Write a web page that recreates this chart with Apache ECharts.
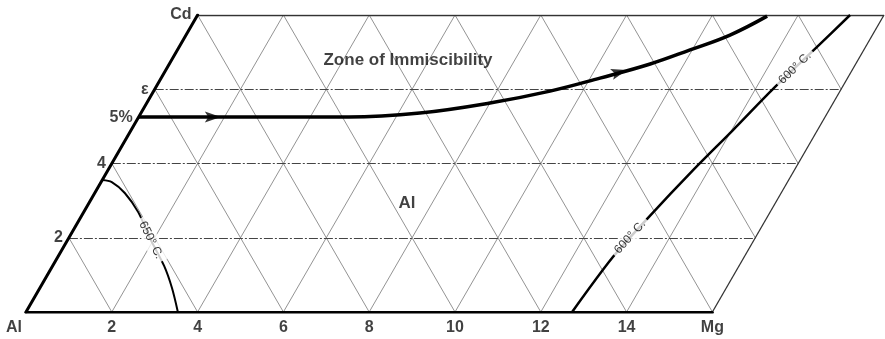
<!DOCTYPE html>
<html><head><meta charset="utf-8">
<script src="https://cdn.jsdelivr.net/npm/echarts@6/dist/echarts.min.js"></script>
<style>html,body{margin:0;padding:0;background:#fff}#c{width:885px;height:339px}</style>
</head><body><div id="c"></div>
<script>
// ---- Data (u = Mg %, bottom scale; v = Cd %, left scale) ----
const U_MAX = 16, V_MAX = 8, STEP = 2;
const bottomTicks = [2, 4, 6, 8, 10, 12, 14];
const leftLabels = ['Cd', 'ε', '5%', '4', '2'];
const leftLabelV = [8, 6, 5.25, 4, 2];

// Boundary of zone of immiscibility (with arrows)
const immiscU = [0, 4.9, 6.5, 8.0, 9.24, 10.23, 11.21, 11.95, 12.68, 13.29];
const immiscV = [5.25, 5.25, 5.36, 5.63, 5.95, 6.30, 6.68, 7.06, 7.46, 7.97];
const arrowU = [1.73, 10.6];
const arrowV = [5.25, 6.46];
const arrowAngle = [0, 16];

// 600 °C isotherm
const iso600U = [12.73, 12.94, 13.23, 13.64, 14.03, 14.41, 14.87, 15.21];
const iso600V = [0, 1.48, 2.53, 3.82, 4.90, 6.01, 7.14, 8.0];
// 650 °C isotherm
const iso650U = [0, 0.25, 0.70, 1.27, 1.94, 2.60, 3.08, 3.54];
const iso650V = [3.556, 3.50, 3.205, 2.69, 1.94, 1.24, 0.646, 0];

// Isotherm labels
const isoLabelText = ['600° C.', '600° C.', '650° C.'];
const isoLabelU = [13.07, 14.64, 1.94];
const isoLabelV = [2.02, 6.57, 1.94];
const isoLabelRot = [48, 44, -64];

// Field labels
const fieldText = ['Zone of Immiscibility', 'Al'];
const fieldU = [5.51, 7.41];
const fieldV = [6.79, 2.94];

// ---- skew transform (triangular grid -> cartesian) ----
const P = (u, v) => [u + v / 2, v];
const seg = (a, b) => ({ coords: [P(a[0], a[1]), P(b[0], b[1])] });

const hLines = [], slashLines = [], backLines = [];
for (let v = STEP; v < V_MAX; v += STEP) hLines.push(seg([0, v], [U_MAX, v]));
for (let u = STEP; u < U_MAX; u += STEP) slashLines.push(seg([u, 0], [u, V_MAX]));
for (let c = STEP; c < U_MAX + V_MAX; c += STEP) {
  const v0 = Math.max(0, c - U_MAX), v1 = Math.min(V_MAX, c);
  backLines.push(seg([c - v0, v0], [c - v1, v1]));
}

const FONT = '"Liberation Sans", Arial, sans-serif';
const zip = (U, V) => U.map((u, i) => P(u, V[i]));

const chart = echarts.init(document.getElementById('c'), null, { renderer: 'canvas' });
chart.setOption({
  animation: false,
  backgroundColor: '#fff',
  grid: { left: 26, right: 1, top: 15, bottom: 27 },
  xAxis: { type: 'value', min: 0, max: U_MAX + V_MAX / 2, show: false },
  yAxis: { type: 'value', min: 0, max: V_MAX, show: false },
  series: [
    { type: 'lines', coordinateSystem: 'cartesian2d', silent: true,
      lineStyle: { color: '#777', width: 0.8, opacity: 1 }, data: slashLines.concat(backLines) },
    { type: 'lines', coordinateSystem: 'cartesian2d', silent: true,
      lineStyle: { color: '#444', width: 1, type: [9, 2, 2, 2], opacity: 1 }, data: hLines },
    // borders
    { type: 'lines', coordinateSystem: 'cartesian2d', silent: true,
      lineStyle: { color: '#333', width: 1.3, opacity: 1 },
      data: [seg([0, V_MAX], [U_MAX, V_MAX]), seg([U_MAX, 0], [U_MAX, V_MAX])] },
    { type: 'lines', coordinateSystem: 'cartesian2d', silent: true,
      lineStyle: { color: '#000', width: 3, opacity: 1, cap: 'round' },
      data: [seg([0, 0], [0, V_MAX]), seg([0, 0], [U_MAX, 0])] },
    // curves
    { type: 'line', data: zip(immiscU, immiscV), smooth: 0.4, showSymbol: false,
      lineStyle: { color: '#000', width: 3.5 } },
    { type: 'line', data: zip(iso600U, iso600V), smooth: 0.3, showSymbol: false,
      lineStyle: { color: '#000', width: 2.5 } },
    { type: 'line', data: zip(iso650U, iso650V), smooth: 0.3, showSymbol: false,
      lineStyle: { color: '#000', width: 2 } },
    // arrows
    { type: 'scatter', symbol: 'path://M0,0L14,5L0,10L3,5Z', symbolSize: [16, 11],
      itemStyle: { color: '#000' },
      data: arrowU.map((u, i) => ({ value: P(u, arrowV[i]), symbolRotate: arrowAngle[i] })) },
    // isotherm labels
    { type: 'scatter', symbolSize: 0, z: 10,
      data: isoLabelU.map((u, i) => ({ value: P(u, isoLabelV[i]),
        label: { show: true, position: 'inside', formatter: isoLabelText[i], rotate: isoLabelRot[i],
          color: '#000', fontSize: 12, fontFamily: FONT, backgroundColor: '#fff', padding: [2, 4] } })) },
    // field labels
    { type: 'scatter', symbolSize: 0,
      data: fieldU.map((u, i) => ({ value: P(u, fieldV[i]),
        label: { show: true, position: 'inside', formatter: fieldText[i], color: '#111',
          fontSize: 17, fontWeight: 'bold', fontFamily: FONT } })) },
    // left labels
    { type: 'scatter', symbolSize: 0,
      data: leftLabels.map((t, i) => ({ value: P(0, leftLabelV[i]),
        label: { show: true, position: 'left', distance: 6, formatter: t, color: '#111',
          fontSize: 16, fontWeight: 'bold', fontFamily: FONT } })) },
    // bottom labels
    { type: 'scatter', symbolSize: 0,
      data: [0].concat(bottomTicks, [U_MAX]).map(u => ({ value: P(u, 0),
        label: { show: true, position: 'bottom', distance: 8,
          offset: u === 0 ? [-12, 0] : [0, 0],
          formatter: u === 0 ? 'Al' : (u === U_MAX ? 'Mg' : String(u)), color: '#111',
          fontSize: 16, fontWeight: 'bold', fontFamily: FONT } })) }
  ]
});
</script></body></html>
